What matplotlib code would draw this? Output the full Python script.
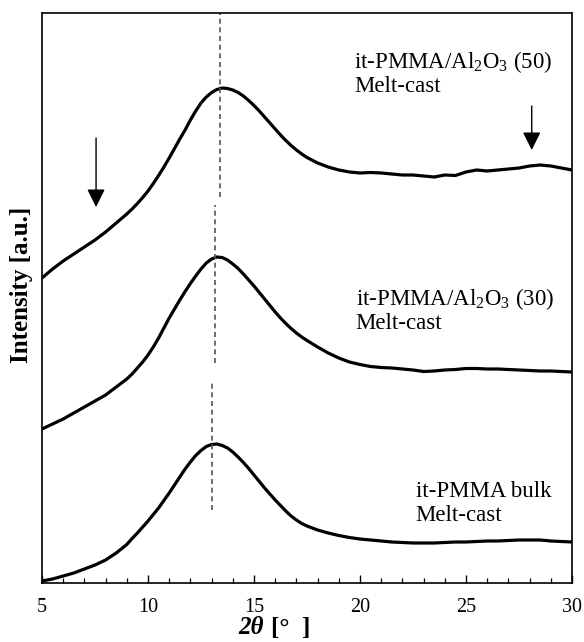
import numpy as np
import matplotlib.pyplot as plt

plt.rcParams['font.family'] = ['Liberation Serif', 'DejaVu Serif']
plt.rcParams['mathtext.fontset'] = 'custom'
plt.rcParams['mathtext.rm'] = 'Liberation Serif'
plt.rcParams['mathtext.it'] = 'Liberation Serif:italic'
plt.rcParams['mathtext.bf'] = 'Liberation Serif:bold'

# 2theta grid (deg): coarse at the ends, finer around the amorphous halo
two_theta = np.concatenate([np.arange(5.0, 9.01, 0.5),
                            np.arange(9.25, 17.51, 0.25),
                            np.arange(18.0, 30.01, 0.5)])

# intensities (a.u., curves offset)
bulk = [2, 4, 7, 10, 14, 18, 23, 30, 38.5,
        44.5, 50, 56, 62, 68.5, 75, 82.5, 90, 98, 106, 114, 121, 127.5, 132.5,
        136.5, 138.5, 139, 137.5, 135, 131, 126, 120.5, 114.5, 108, 101.5, 95, 89,
        83, 77.5, 72, 67, 63, 59.5, 57,
        53, 50, 47.5, 45.5, 44, 43, 42, 41, 40.5, 40, 40, 40, 40.5, 41, 41, 41.5,
        42, 42, 42.5, 43, 43, 43, 42, 41.5, 41]

al30 = [154, 159, 164, 170, 176, 182, 188, 196, 204,
        209, 215, 221, 228, 236, 245, 255, 265, 274, 283, 291.5, 299.5, 307, 314,
        320, 324, 326, 325.5, 323, 319, 314.5, 309, 303, 297, 290.5, 284, 277.5,
        271, 265, 259.5, 254.5, 250, 246, 242.5,
        236, 230, 225, 221, 218.5, 216.5, 215.5, 215, 214, 213, 211.5, 212, 213,
        213.5, 214.5, 214.5, 214, 214, 213.5, 213, 212.5, 212, 212, 211.5, 211]

al50 = [305, 314, 322, 329, 336, 343, 351, 360, 369,
        374, 379.5, 385.5, 392, 399.5, 407.5, 416, 425, 434.5, 444, 453, 463, 472,
        480, 486, 490.5, 493.5, 495, 494.5, 493, 490.5, 487, 482.5, 477.5, 472, 466,
        460, 454, 448, 442.5, 437.5, 433, 429, 425.5,
        420, 416, 413, 411, 410, 410.5, 410, 409, 408, 408, 407, 406, 408, 407.5,
        411, 413, 412, 413, 414, 415, 417, 418, 417, 415, 413]

peak_x = [13.41, 13.18, 13.03]
peak_lo = [386, 220, 73]
peak_hi = [570, 378, 203]

fig = plt.figure(figsize=(5.84, 6.42), dpi=100)
ax = fig.add_axes([42 / 584, 1 - 583 / 642, 530 / 584, 570 / 642])

for y in (bulk, al30, al50):
    ax.plot(two_theta, y, color='black', lw=2.3, solid_joinstyle='round')

ax.vlines(peak_x, peak_lo, peak_hi, colors='#555555', linestyles=(0, (3, 2.2)), lw=1.2)

arrow = dict(arrowstyle='-|>,head_length=1.1,head_width=0.55', color='black',
             lw=1.0, mutation_scale=10, shrinkA=0, shrinkB=0)
ax.annotate('', xy=(7.55, 376), xytext=(7.55, 445), arrowprops=arrow)
ax.annotate('', xy=(28.1, 433), xytext=(28.1, 477), arrowprops=arrow)

fs = 16.5
ax.text(19.74, 515, 'it-PMMA/Al$_2$O$_3$ (50)', fontsize=fs, va='baseline')
ax.text(19.74, 491, 'Melt-cast', fontsize=fs, va='baseline')
ax.text(19.79, 278, 'it-PMMA/Al$_2$O$_3$ (30)', fontsize=fs, va='baseline')
ax.text(19.79, 254, 'Melt-cast', fontsize=fs, va='baseline')
ax.text(22.63, 86, 'it-PMMA bulk', fontsize=fs, va='baseline')
ax.text(22.63, 62, 'Melt-cast', fontsize=fs, va='baseline')

ax.set_xlim(5, 30)
ax.set_ylim(0, 570)
ax.set_xticks(range(5, 31, 5))
ax.set_xticks(range(5, 31), minor=True)
ax.set_yticks([])
ax.tick_params(axis='x', which='major', direction='in', length=6, width=1.0,
               labelsize=14.5, pad=11)
ax.tick_params(axis='x', which='minor', direction='in', length=3.5, width=0.9)
for s in ax.spines.values():
    s.set_linewidth(1.2)

fig.text(238 / 584, 1 - 628 / 642, '2θ', fontsize=18, fontweight='bold',
         fontstyle='italic', va='center', ha='left')
fig.text(271 / 584, 1 - 628 / 642, '[°  ]', fontsize=18, fontweight='bold',
         va='center', ha='left')
fig.text(22 / 584, 1 - 285 / 642, 'Intensity [a.u.]', fontsize=18,
         fontweight='bold', rotation=90, va='center', ha='center')

fig.savefig('out.png', dpi=100)
